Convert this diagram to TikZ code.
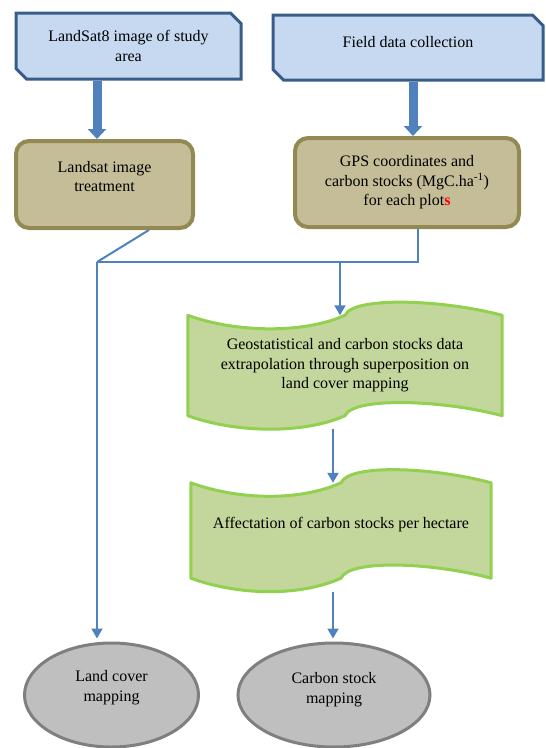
\documentclass[tikz,border=0pt]{standalone}
\usepackage{fontspec}
\setmainfont{Liberation Serif}
\usetikzlibrary{arrows.meta, positioning, shapes.misc, shapes.geometric, backgrounds}

\definecolor{srcfill}{HTML}{C6D9F1}
\definecolor{srcline}{HTML}{385D8A}
\definecolor{stepfill}{HTML}{C4BD97}
\definecolor{stepline}{HTML}{938953}
\definecolor{tapefill}{HTML}{C3D69B}
\definecolor{tapeline}{HTML}{92D050}
\definecolor{mapfill}{HTML}{BFBFBF}
\definecolor{mapline}{HTML}{7F7F7F}
\definecolor{flowblue}{HTML}{4F81BD}

% wavy outline round a tape node
\newcommand{\tapeoutline}[1]{%
  \path[tapeshape] (#1.north west) .. controls +(50,18) and +(-40,18) .. (#1.north)
    .. controls +(8,-19) and +(-60,-16) .. (#1.north east) -- (#1.south east)
    .. controls +(-60,-16) and +(8,-19) .. (#1.south)
    .. controls +(-40,18) and +(50,18) .. (#1.south west) -- cycle;}

\begin{document}
\begin{tikzpicture}[
  x=1pt, y=-1pt,
  font=\fontsize{16}{19.5}\selectfont,
  source/.style={chamfered rectangle, chamfered rectangle corners={north east, south west}, chamfered rectangle xsep=5.5pt, chamfered rectangle ysep=5pt, draw=srcline, fill=srcfill, line width=3pt, align=center, inner sep=0pt},
  stepbox/.style={rectangle, rounded corners=13pt, draw=stepline, fill=stepfill, line width=4pt, align=center},
  tapebox/.style={rectangle, align=center, inner sep=0pt},
  tapeshape/.style={draw=tapeline, fill=tapefill, line width=3pt, line join=round},
  mapping/.style={ellipse, draw=mapline, fill=mapfill, line width=3pt, align=center, inner sep=0pt},
  fatflow/.style={draw=flowblue, line width=9pt, -{Triangle[width=18pt,length=10pt]}},
  flow/.style={draw=flowblue, line width=2pt, -{Triangle[width=11pt,length=10pt]}},
  link/.style={draw=flowblue, line width=2pt}
]
\useasboundingbox (0,0) rectangle (546,748);

% Nodes
\node[source, minimum width=225pt, minimum height=66pt] (landsat) at (128.5,46) {LandSat8 image of study\\area};
\node[source, minimum width=270pt, minimum height=65pt, text depth=11pt] (field) at (408,47.5) {Field data collection};
\node[stepbox, minimum width=177pt, minimum height=87pt, text depth=16pt] (treat) at (104.5,184.5) {Landsat image\\treatment};
\node[stepbox, minimum width=224pt, minimum height=89pt] (gps) at (407,182.5) {GPS coordinates and\\carbon stocks (MgC.ha\textsuperscript{-1})\\for each plot\textcolor{red}{\textbf{s}}};
\node[tapebox, minimum width=314pt, minimum height=100pt] (geo) at (345,365.5) {Geostatistical and carbon stocks data\\extrapolation through superposition on\\land cover mapping};
\node[tapebox, minimum width=300pt, minimum height=95pt, text depth=15pt] (affect) at (341,530.5) {Affectation of carbon stocks per hectare};
\node[mapping, minimum width=174pt, minimum height=104pt, text depth=18pt] (landcover) at (111.5,695) {Land cover\\mapping};
\node[mapping, minimum width=192pt, minimum height=104pt, text depth=14pt] (carbonmap) at (334,695) {Carbon stock\\mapping};

\begin{scope}[on background layer]
  \tapeoutline{geo}
  \tapeoutline{affect}
\end{scope}

\coordinate (join) at (97,262);

% Connections
\draw[fatflow] ([xshift=-7.5pt]treat.north |- landsat.south) -- ([xshift=-7.5pt]treat.north);
\draw[fatflow] ([xshift=5pt]field.south) -- ([xshift=5pt]field.south |- gps.north);
\draw[link] ([xshift=44.5pt]treat.south) -- (join);
\draw[link] ([xshift=11pt]gps.south) |- (join);
\draw[flow] ([xshift=-5pt]geo.north |- join) -- ([xshift=-5pt]geo.north);
\draw[flow, shorten >=3pt] (join) -- (join |- landcover.north);
\draw[flow] ([xshift=-12pt,yshift=-13pt]geo.south) -- ([xshift=-12pt]geo.south |- affect.north);
\draw[flow, shorten >=3pt] ([xshift=-8pt,yshift=-14pt]affect.south) -- ([xshift=-8pt]affect.south |- carbonmap.north);

\end{tikzpicture}
\end{document}
